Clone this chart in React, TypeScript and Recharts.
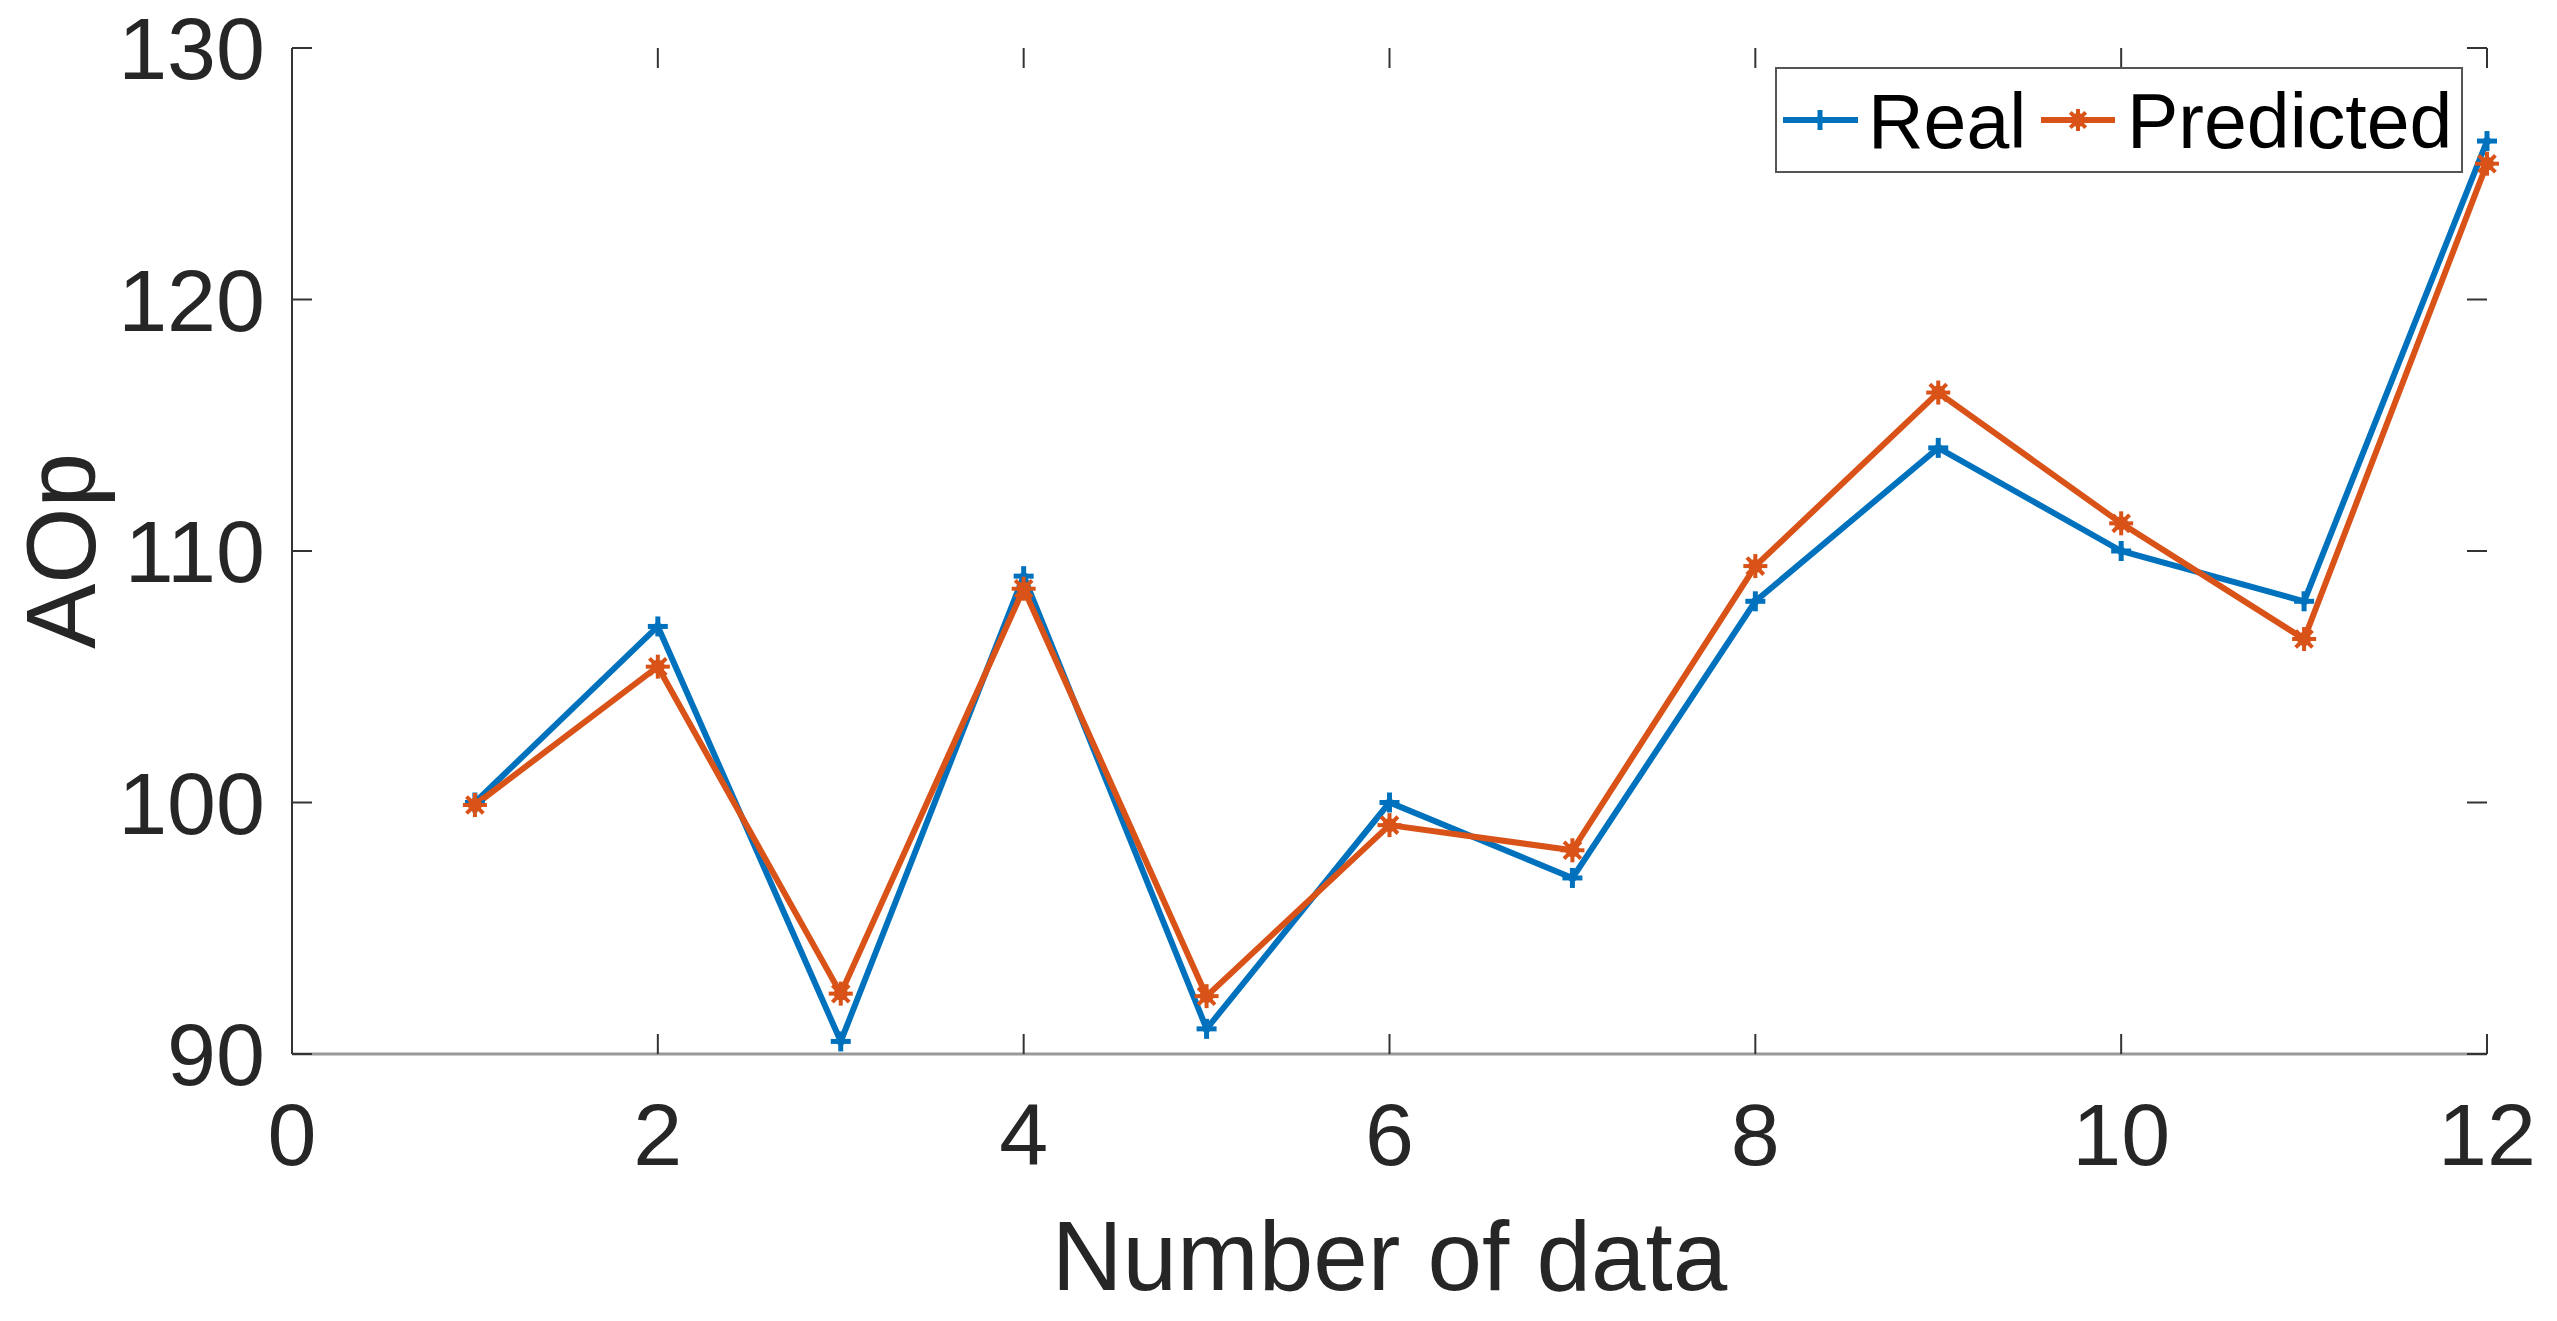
import React from "react";
import { LineChart, Line, XAxis, YAxis, Legend } from "recharts";

const sampleIndex = [1, 2, 3, 4, 5, 6, 7, 8, 9, 10, 11, 12];
const realValues = [100, 107, 90.5, 109, 91, 100, 97, 108, 114.1, 110, 108, 126.3];
const predictedValues = [99.9, 105.4, 92.4, 108.5, 92.3, 99.1, 98.1, 109.4, 116.3, 111.1, 106.5, 125.4];
const xTicks = [0, 2, 4, 6, 8, 10, 12];
const yTicks = [90, 100, 110, 120, 130];

const BLUE = "#0072BD";
const ORANGE = "#D95319";
const AXIS = "#333333";
const FONT = "'Liberation Sans', Arial, sans-serif";

// chart frame
const W = 2557;
const H = 1321;
const M = { top: 48, right: 70, bottom: 0, left: 0 };
const Y_AXIS_W = 292;
const X_AXIS_H = 267;
const PLOT_TOP = M.top;
const PLOT_BOTTOM = H - M.bottom - X_AXIS_H;
const PLOT_LEFT = M.left + Y_AXIS_W;
const PLOT_RIGHT = W - M.right;
const TICK_LEN = 20;

const data = sampleIndex.map((n, i) => ({ n, real: realValues[i], predicted: predictedValues[i] }));

const PlusMark = ({ cx, cy, r = 10 }: any) => (
  <g>
    <line x1={cx - r} y1={cy} x2={cx + r} y2={cy} stroke={BLUE} strokeWidth={5} />
    <line x1={cx} y1={cy - r} x2={cx} y2={cy + r} stroke={BLUE} strokeWidth={5} />
    <circle cx={cx} cy={cy} r={4} fill={BLUE} />
  </g>
);

const StarMark = ({ cx, cy, r = 12 }: any) => {
  const d = r * 0.7;
  return (
    <g stroke={ORANGE} strokeWidth={4}>
      <line x1={cx - r} y1={cy} x2={cx + r} y2={cy} />
      <line x1={cx} y1={cy - r} x2={cx} y2={cy + r} />
      <line x1={cx - d} y1={cy - d} x2={cx + d} y2={cy + d} />
      <line x1={cx - d} y1={cy + d} x2={cx + d} y2={cy - d} />
      <circle cx={cx} cy={cy} r={7} fill={ORANGE} stroke="none" />
    </g>
  );
};

const LegendBox = () => (
  <svg width={688} height={106} style={{ display: "block" }}>
    <rect x={1} y={1} width={686} height={104} fill="#fff" stroke="#555" strokeWidth={2} />
    <line x1={8} y1={53} x2={83} y2={53} stroke={BLUE} strokeWidth={6} />
    <PlusMark cx={45} cy={53} r={10} />
    <text x={93} y={81} fontSize={77} fontFamily={FONT} fill="#000">Real</text>
    <line x1={266} y1={53} x2={340} y2={53} stroke={ORANGE} strokeWidth={6} />
    <StarMark cx={303} cy={53} r={11} />
    <text x={352} y={81} fontSize={77} fontFamily={FONT} fill="#000">Predicted</text>
  </svg>
);

// MATLAB style: labels outside, tick marks pointing inward on both sides of the box
const XTick = ({ x, y, payload }: any) => (
  <g>
    <line x1={x} y1={PLOT_BOTTOM} x2={x} y2={PLOT_BOTTOM - TICK_LEN} stroke={AXIS} strokeWidth={2} />
    <line x1={x} y1={PLOT_TOP} x2={x} y2={PLOT_TOP + TICK_LEN} stroke={AXIS} strokeWidth={2} />
    <text x={x} y={y} dy="0.71em" textAnchor="middle" fontSize={88} fontFamily={FONT} fill="#262626">
      {payload.value}
    </text>
  </g>
);

const YTick = ({ x, y, payload }: any) => (
  <g>
    <line x1={PLOT_LEFT} y1={y} x2={PLOT_LEFT + TICK_LEN} y2={y} stroke={AXIS} strokeWidth={2} />
    <line x1={PLOT_RIGHT} y1={y} x2={PLOT_RIGHT - TICK_LEN} y2={y} stroke={AXIS} strokeWidth={2} />
    <text x={x} y={y} dy="0.355em" textAnchor="end" fontSize={88} fontFamily={FONT} fill="#262626">
      {payload.value}
    </text>
  </g>
);

const XLabel = ({ viewBox }: any) => (
  <text x={viewBox.x + viewBox.width / 2} y={1290} textAnchor="middle" fontSize={98} fontFamily={FONT} fill="#262626">
    Number of data
  </text>
);

const YLabel = ({ viewBox }: any) => {
  const x = 95;
  const y = viewBox.y + viewBox.height / 2;
  return (
    <text x={x} y={y} transform={`rotate(-90, ${x}, ${y})`} textAnchor="middle" fontSize={98} fontFamily={FONT} fill="#262626">
      AOp
    </text>
  );
};

export default function App() {
  return (
    <div style={{ position: "absolute", left: 0, top: 0, background: "#fff" }}>
      <LineChart width={W} height={H} data={data} margin={M}>
        <XAxis
          xAxisId="bottom"
          dataKey="n"
          type="number"
          domain={[0, 12]}
          ticks={xTicks}
          height={X_AXIS_H}
          tick={<XTick />}
          tickLine={false}
          tickSize={0}
          tickMargin={49}
          axisLine={{ stroke: "#999", strokeWidth: 3 }}
          label={<XLabel />}
        />
        <YAxis
          yAxisId="left"
          type="number"
          domain={[90, 130]}
          ticks={yTicks}
          width={Y_AXIS_W}
          tick={<YTick />}
          tickLine={false}
          tickSize={0}
          tickMargin={27}
          axisLine={{ stroke: AXIS, strokeWidth: 2 }}
          label={<YLabel />}
        />
        {/* top and right edges of the box */}
        <XAxis xAxisId="top" orientation="top" type="number" dataKey="n" domain={[0, 12]} ticks={xTicks}
          height={0} tick={false} tickLine={false} axisLine={{ stroke: "#999", strokeWidth: 3 }} />
        <YAxis yAxisId="right" orientation="right" type="number" domain={[90, 130]} ticks={yTicks}
          width={0} tick={false} tickLine={false} axisLine={{ stroke: AXIS, strokeWidth: 2 }} />
        <Line xAxisId="top" yAxisId="right" dataKey="real" stroke="none" dot={false} activeDot={false} legendType="none" isAnimationActive={false} />

        <Line
          xAxisId="bottom"
          yAxisId="left"
          dataKey="real"
          stroke={BLUE}
          strokeWidth={6}
          dot={(p: any) => <PlusMark key={`r-${p.index}`} cx={p.cx} cy={p.cy} />}
          activeDot={false}
          isAnimationActive={false}
        />
        <Line
          xAxisId="bottom"
          yAxisId="left"
          dataKey="predicted"
          stroke={ORANGE}
          strokeWidth={6}
          dot={(p: any) => <StarMark key={`p-${p.index}`} cx={p.cx} cy={p.cy} />}
          activeDot={false}
          isAnimationActive={false}
        />
        <Legend
          layout="horizontal"
          verticalAlign="middle"
          align="center"
          wrapperStyle={{ left: 1775, top: 67, width: 688, height: 106 }}
          content={() => <LegendBox />}
        />
      </LineChart>
    </div>
  );
}
